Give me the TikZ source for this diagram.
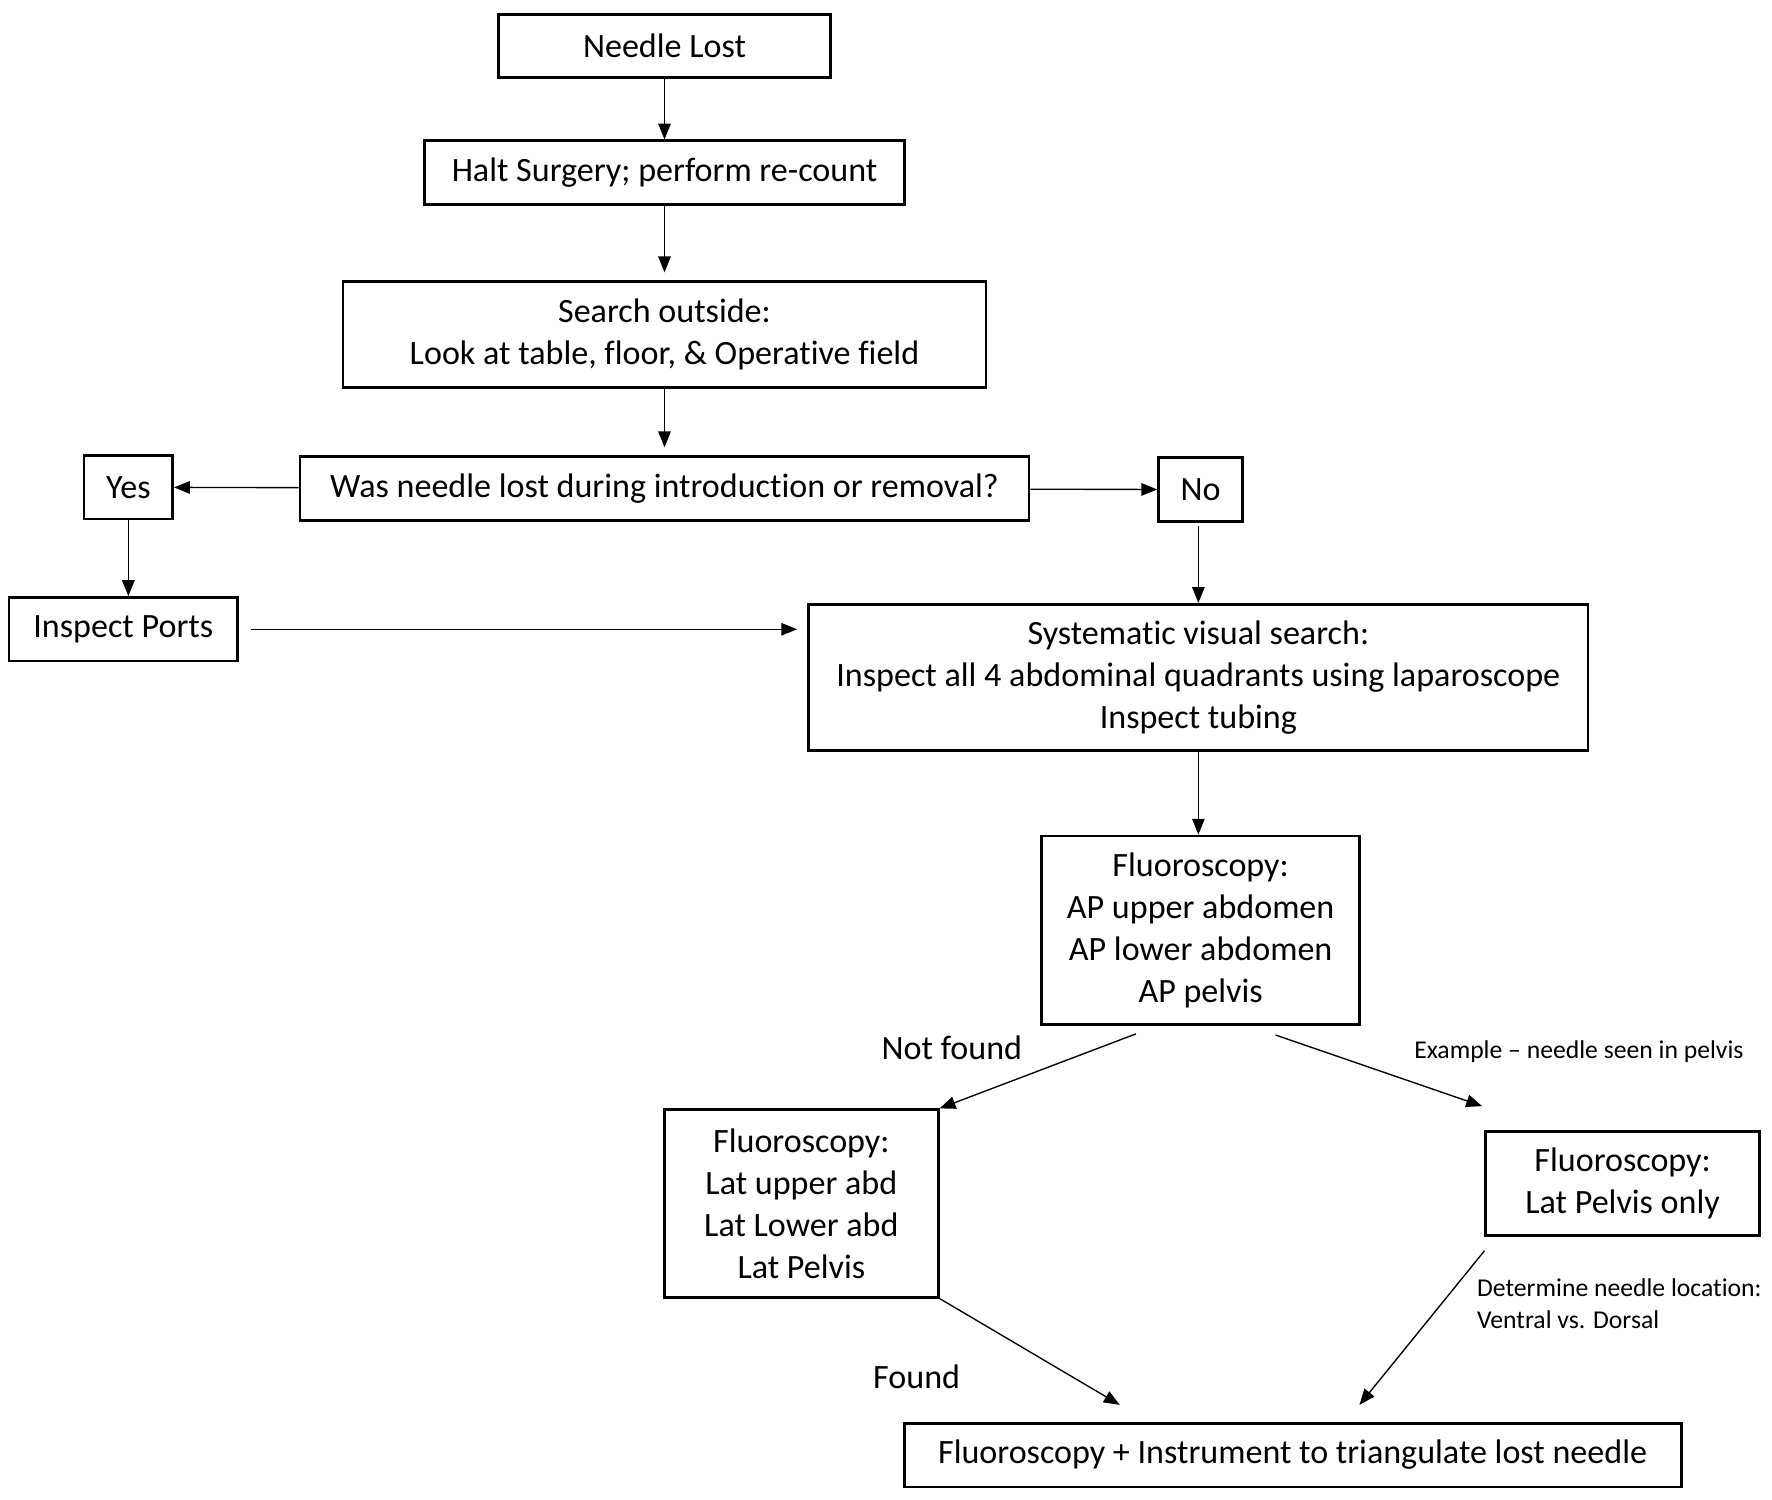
\documentclass[tikz,border=0pt]{standalone}
\usepackage{fontspec}
\setmainfont{Carlito}[Ligatures=NoCommon]
\usetikzlibrary{arrows.meta,calc}
\begin{document}
\begin{tikzpicture}[x=0.5pt,y=-0.5pt,
  box/.style={draw, line width=1.2pt, align=center, inner sep=0pt,
    font=\fontsize{15}{18.5}\selectfont},
  arr/.style={-{Triangle[length=7pt,width=5.5pt]}, line width=0.6pt},
  lbl/.style={inner sep=0pt, font=\fontsize{15}{18.5}\selectfont},
  small/.style={inner sep=0pt, align=left, font=\fontsize{11.3}{14}\selectfont}]
\useasboundingbox (0,0) rectangle (1560,1320);

\node[box, minimum width=146pt, minimum height=27.5pt] (lost) at (585,40.5) {Needle Lost};
\node[box, minimum width=211pt, minimum height=28pt] (halt) at (585,152) {Halt Surgery; perform re-count};
\node[box, minimum width=283pt, minimum height=46.5pt] (search) at (585,294.5) {Search outside:\\Look at table, floor, \& Operative field};
\node[box, minimum width=321pt, minimum height=28pt] (q) at (585,430) {Was needle lost during introduction or removal?};
\node[box, minimum width=39pt, minimum height=28pt] (yes) at (113,429) {Yes};
\node[box, minimum width=37pt, minimum height=28pt] (no) at (1057,431) {No};
\node[box, minimum width=100.5pt, minimum height=28pt] (ports) at (108.5,554) {Inspect Ports};
\node[box, minimum width=343pt, minimum height=64.5pt] (sys) at (1055,596.5) {Systematic visual search:\\Inspect all 4 abdominal quadrants using laparoscope\\Inspect tubing};
\node[box, minimum width=140pt, minimum height=83pt] (ap) at (1057,819) {Fluoroscopy:\\AP upper abdomen\\AP lower abdomen\\AP pelvis};
\node[box, minimum width=120.5pt, minimum height=82.5pt] (lat) at (705.5,1059.5) {Fluoroscopy:\\Lat upper abd\\Lat Lower abd\\Lat Pelvis};
\node[box, minimum width=120.5pt, minimum height=46pt] (only) at (1428.5,1042) {Fluoroscopy:\\Lat Pelvis only};
\node[box, minimum width=342pt, minimum height=28pt] (final) at (1138,1281) {Fluoroscopy + Instrument to triangulate lost needle};

\node[lbl] (nf) at (838,922) {Not found};
\node[small] (ex) at (1390,926) {Example – needle seen in pelvis};
\node[small, anchor=west] (det) at (1300,1148) {Determine needle location:\\Ventral vs. Dorsal};
\node[lbl] (found) at (807,1212) {Found};

\draw[arr] (lost) -- (halt);
\draw[arr, shorten >=3.5pt] (halt) -- (search);
\draw[arr, shorten >=3.5pt] (search) -- (q);
\draw[arr] (q) -- (yes);
\draw[arr] (q) -- (no);
\draw[arr] (yes.south) -- (yes.south |- ports.north);
\draw[arr] ($(no.south)+(-2,3)$) -- ($(no.south |- sys.north)+(-2,0)$);
\draw[arr, shorten <=5.5pt, shorten >=4.5pt] (ports.east) -- (sys.west |- ports.east);
\draw[arr] (sys) -- (sys.south |- ap.north);
\coordinate (apl) at ($(ap.south)+(-57,7)$);
\coordinate (apr) at ($(ap.south)+(66,8)$);
\coordinate (onlyin) at ($(only.north west)+(-2,-21)$);
\coordinate (finl) at ($(final.north west)+(191,-15)$);
\coordinate (finr) at ($(final.north west)+(402,-15)$);
\coordinate (onlyout) at ($(only.south west)+(0,12)$);
\draw[arr] (apl) -- (lat.north east);
\draw[arr] (apr) -- (onlyin);
\draw[arr] (lat.south east) -- (finl);
\draw[arr] (onlyout) -- (finr);
\end{tikzpicture}
\end{document}
